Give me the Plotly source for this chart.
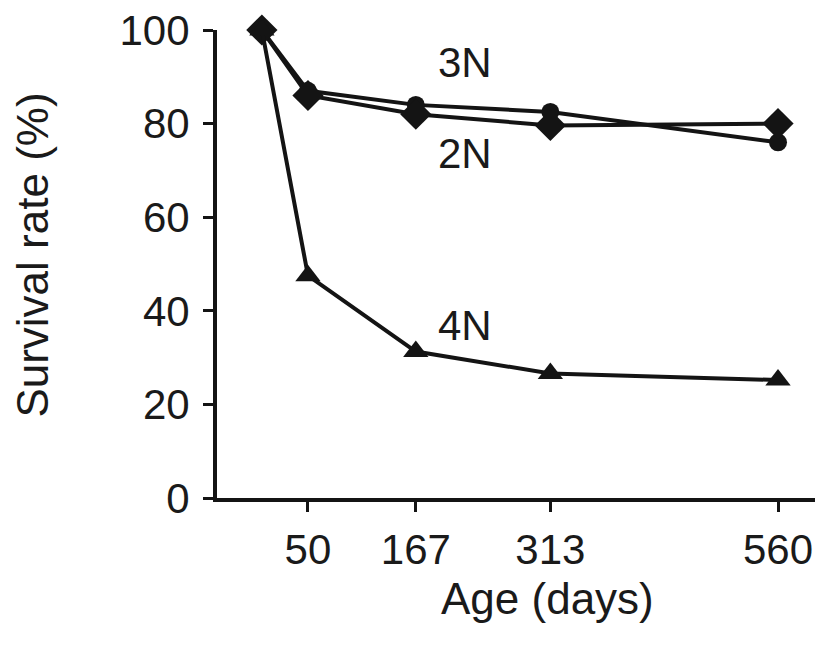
import plotly.graph_objects as go

days = [0, 50, 167, 313, 560]
surv_3n = [100, 87, 84, 82.5, 76]
surv_2n = [100, 86, 82, 79.6, 80]
surv_4n = [100, 47.5, 31.3, 26.6, 25.2]
x_ticks = [50, 167, 313, 560]
y_ticks = [0, 20, 40, 60, 80, 100]

ink = "#141414"
fam = "Liberation Sans, Arial, sans-serif"
tick_font = dict(family=fam, size=42, color="#1a1a1a")
label_font = dict(family=fam, size=42, color="#1a1a1a")
xtitle_font = dict(family=fam, size=44, color="#1a1a1a")
ytitle_font = dict(family=fam, size=44, color="#1a1a1a")

fig = go.Figure()
fig.add_trace(go.Scatter(x=days, y=surv_3n, mode="lines+markers", name="3N",
                         line=dict(color=ink, width=4),
                         marker=dict(symbol="circle", size=18, color=ink),
                         cliponaxis=False))
fig.add_trace(go.Scatter(x=days, y=surv_2n, mode="lines+markers", name="2N",
                         line=dict(color=ink, width=4),
                         marker=dict(symbol="diamond", size=24, color=ink),
                         cliponaxis=False))
fig.add_trace(go.Scatter(x=days, y=surv_4n, mode="lines+markers", name="4N",
                         line=dict(color=ink, width=4),
                         marker=dict(symbol="triangle-up", size=22, color=ink),
                         cliponaxis=False))

fig.add_annotation(x=220, y=93, text="3N", showarrow=False, font=label_font)
fig.add_annotation(x=220, y=73.6, text="2N", showarrow=False, font=label_font)
fig.add_annotation(x=220, y=36.9, text="4N", showarrow=False, font=label_font)

# axis titles placed as in the reference
fig.add_annotation(xref="paper", yref="paper", x=0.539, y=-0.2137, text="Age (days)",
                   showarrow=False, font=xtitle_font, xanchor="center", yanchor="middle")
fig.add_annotation(xref="paper", yref="paper", x=-0.2997, y=0.52, text="Survival rate (%)",
                   textangle=-90, showarrow=False, font=ytitle_font,
                   xanchor="center", yanchor="middle")

fig.update_layout(
    width=823, height=647,
    margin=dict(l=209, r=0, t=22, b=157, autoexpand=False),
    paper_bgcolor="white", plot_bgcolor="white",
    showlegend=False,
    font=tick_font,
    xaxis=dict(range=[-48.7, 617.5], tickvals=x_ticks, ticktext=[str(v) for v in x_ticks],
               showline=True, linecolor=ink, linewidth=4, ticks="outside", ticklen=10,
               tickwidth=3, tickcolor=ink, showgrid=False, zeroline=False,
               ticklabelstandoff=2, tickfont=tick_font, ticklabeloverflow="allow"),
    yaxis=dict(range=[0, 100], tickvals=y_ticks, showline=True, linecolor=ink, linewidth=4,
               ticks="outside", ticklen=10, tickwidth=3, tickcolor=ink, showgrid=False,
               zeroline=False, ticklabelstandoff=5, tickfont=tick_font,
               ticklabeloverflow="allow"),
)

fig.write_html("out.html")
